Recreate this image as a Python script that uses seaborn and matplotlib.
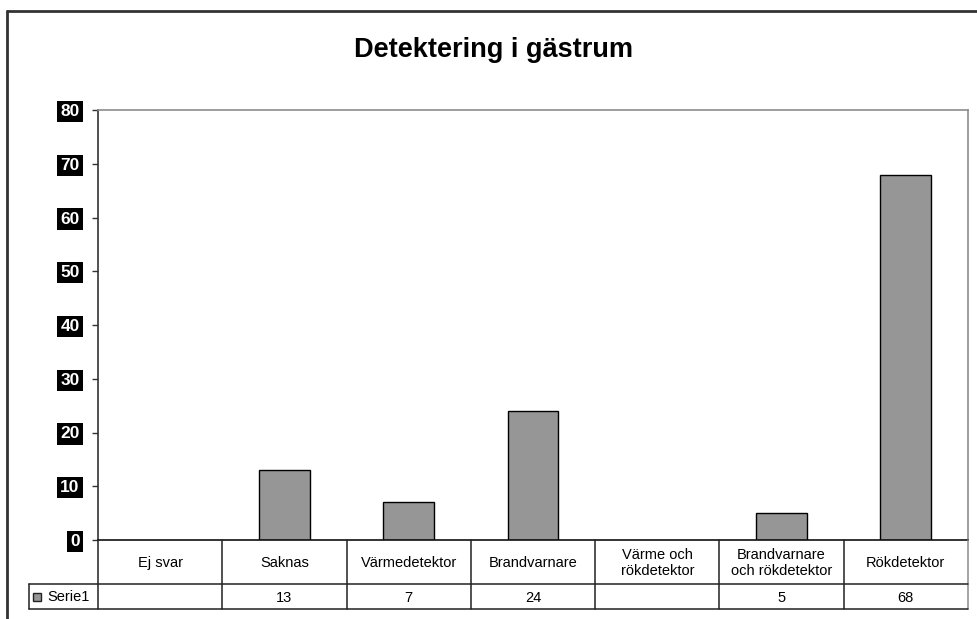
import numpy as np
import pandas as pd
import matplotlib
matplotlib.use("Agg")
import matplotlib.pyplot as plt
from matplotlib.lines import Line2D
from matplotlib.patches import Rectangle
import seaborn as sns

categories = ["Ej svar", "Saknas", "Värmedetektor", "Brandvarnare",
              "Värme och\nrökdetektor", "Brandvarnare\noch rökdetektor", "Rökdetektor"]
values = [np.nan, 13, 7, 24, np.nan, 5, 68]
value_labels = ["", "13", "7", "24", "", "5", "68"]
series_name = "Serie1"
title = "Detektering i gästrum"
yticks = [0, 10, 20, 30, 40, 50, 60, 70, 80]

sns.set_style("white")
plt.rcParams['font.family'] = ['Liberation Sans', 'DejaVu Sans']
plt.rcParams['text.color'] = 'black'

W, H = 977, 619
fig = plt.figure(figsize=(W / 100, H / 100), dpi=100)

def fx(px):
    return px / W

def fy(py):
    return 1 - py / H

left, right, top, bottom = 98, 968, 110, 540
ax = fig.add_axes([fx(left), fy(bottom), fx(right) - fx(left), fy(top) - fy(bottom)])

df = pd.DataFrame({"cat": categories, "val": values})
bar_color = "#969696"
sns.barplot(data=df, x="cat", y="val", order=categories, color=bar_color,
            edgecolor="black", linewidth=1.0, width=0.41, ax=ax, saturation=1)

ax.set_xlim(-0.5, len(categories) - 0.5)
ax.set_ylim(0, 80)
ax.set_yticks(yticks)
ax.set_xticks([])
ax.set_xlabel("")
ax.set_ylabel("")

for s in ["top", "right"]:
    ax.spines[s].set_visible(True)
    ax.spines[s].set_color("#8c8c8c")
    ax.spines[s].set_linewidth(1.2)
ax.spines["left"].set_color("#333333")
ax.spines["left"].set_linewidth(1.2)
ax.spines["bottom"].set_color("#111111")
ax.spines["bottom"].set_linewidth(1.2)

ax.tick_params(axis="y", direction="out", length=4.3, width=1, color="#333333",
               left=True, pad=9, labelsize=12.5, labelcolor="white")
for lab in ax.get_yticklabels():
    lab.set_fontweight("bold")
    lab.set_bbox(dict(facecolor="black", edgecolor="none", pad=2.2))

fig.text(0.505, fy(50), title, ha="center", va="center", fontsize=19.5, fontweight="bold",
         color="black")

# Outer chart border
lc = "#333333"
fig.add_artist(Line2D([fx(7), 1], [fy(11), fy(11)], transform=fig.transFigure, color=lc, lw=2))
fig.add_artist(Line2D([fx(7), fx(7)], [fy(11), 0], transform=fig.transFigure, color=lc, lw=2))

# Data table
col_w = (right - left) / len(categories)
r1_top, r1_bot, r2_bot = bottom, 584, 609
tc = "#222222"
for i in range(len(categories) + 1):
    x = left + i * col_w
    col = "#8c8c8c" if i == len(categories) else tc
    fig.add_artist(Line2D([fx(x), fx(x)], [fy(r1_top), fy(r2_bot)], transform=fig.transFigure,
                          color=col, lw=1.1))
fig.add_artist(Line2D([fx(29), fx(right)], [fy(r1_bot), fy(r1_bot)], transform=fig.transFigure, color=tc, lw=1.1))
fig.add_artist(Line2D([fx(29), fx(right)], [fy(r2_bot), fy(r2_bot)], transform=fig.transFigure, color=tc, lw=1.1))
fig.add_artist(Line2D([fx(29), fx(29)], [fy(r1_bot), fy(r2_bot)], transform=fig.transFigure, color=tc, lw=1.1))

for i, (c, v) in enumerate(zip(categories, value_labels)):
    cx = left + (i + 0.5) * col_w
    fig.text(fx(cx), fy((r1_top + r1_bot) / 2 + 1), c, ha="center", va="center", fontsize=10.5,
             linespacing=1.15, color="black")
    fig.text(fx(cx), fy((r1_bot + r2_bot) / 2 + 1), v, ha="center", va="center", fontsize=10.5,
             color="black")

# Legend key in table
fig.add_artist(Rectangle((fx(33), fy(601)), fx(8), fy(593) - fy(601), transform=fig.transFigure,
                         facecolor=bar_color, edgecolor="#222222", lw=1))
fig.text(fx(47), fy(597), series_name, ha="left", va="center", fontsize=10.5, color="black")

fig.savefig("out.png", dpi=100)
